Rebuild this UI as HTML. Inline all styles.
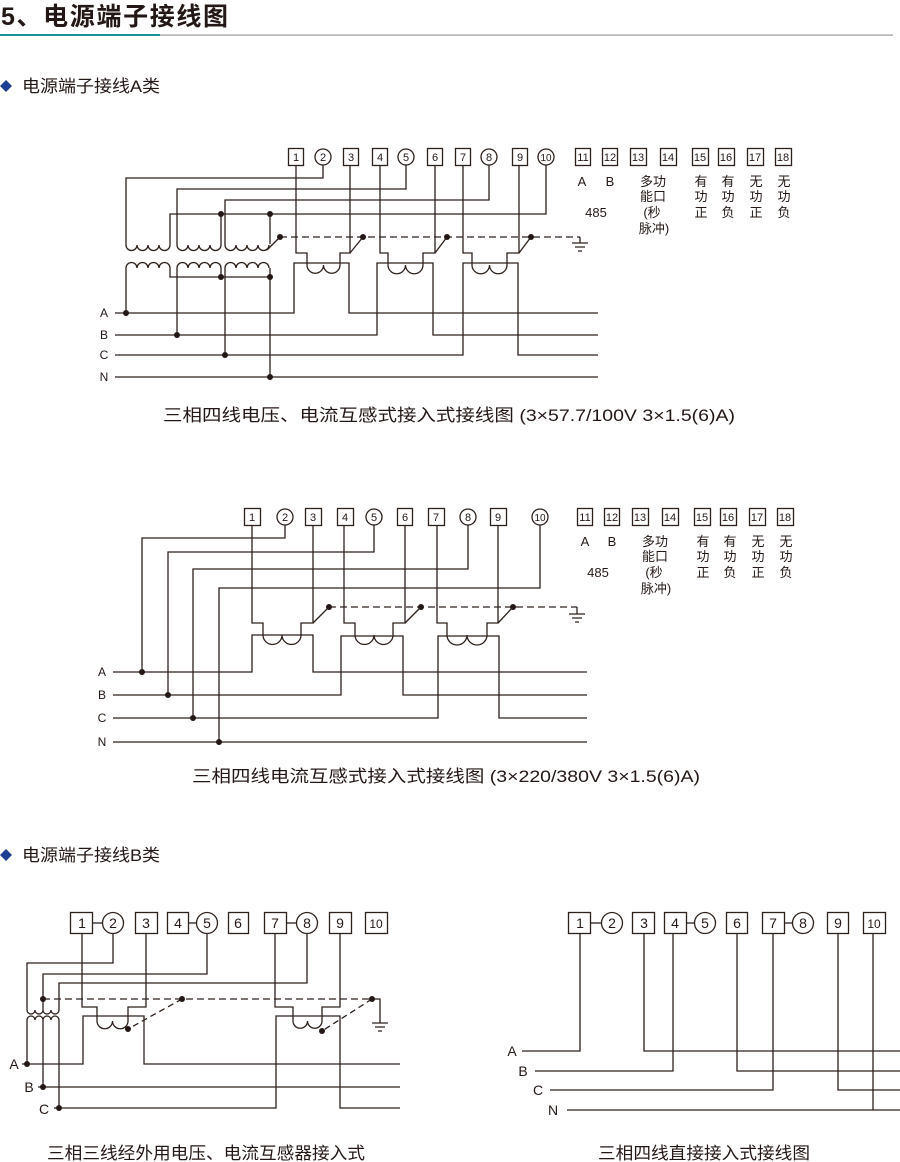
<!DOCTYPE html>
<html><head><meta charset="utf-8"><style>
body{margin:0;background:#fff;width:900px;height:1162px;overflow:hidden}
svg{display:block}
text{font-family:"Liberation Sans","Noto Sans CJK SC",sans-serif;fill:#231815}
.t{font-size:11px;text-anchor:middle}
.l{font-size:13px;text-anchor:middle}
.c{font-size:17px}
</style></head><body>
<svg width="900" height="1162" viewBox="0 0 900 1162" xmlns="http://www.w3.org/2000/svg">
<text x="1" y="25" style="font-size:25px;font-weight:bold" textLength="227" lengthAdjust="spacing">5、电源端子接线图</text>
<rect x="0" y="34" width="160" height="2" fill="#1a9199"/>
<rect x="160" y="34.5" width="733" height="1.2" fill="#999"/>
<path d="M6,80 L12,86 L6,92 L0,86Z" fill="#1c3f94"/>
<text x="22" y="92" style="font-size:17px" textLength="138" lengthAdjust="spacingAndGlyphs">电源端子接线A类</text>
<path d="M6,849 L12,855 L6,861 L0,855Z" fill="#1c3f94"/>
<text x="22" y="861" style="font-size:17px" textLength="138" lengthAdjust="spacingAndGlyphs">电源端子接线B类</text>

<g stroke="#2d211c" stroke-width="1.3" fill="none">
<g>
<rect x="288.5" y="148.5" width="15" height="17"/><circle cx="323" cy="157" r="8"/>
<rect x="343.5" y="148.5" width="15" height="17"/><rect x="372.5" y="148.5" width="15" height="17"/>
<circle cx="406" cy="157" r="8"/><rect x="427.5" y="148.5" width="15" height="17"/>
<rect x="455.5" y="148.5" width="15" height="17"/><circle cx="489" cy="157" r="8"/>
<rect x="512.5" y="148.5" width="15" height="17"/><circle cx="546" cy="157" r="8"/>
<rect x="575.5" y="148.5" width="15" height="17"/><rect x="602.5" y="148.5" width="15" height="17"/>
<rect x="630.5" y="148.5" width="16" height="17"/><rect x="660.5" y="148.5" width="16" height="17"/>
<rect x="692.5" y="148.5" width="16" height="17"/><rect x="718.5" y="148.5" width="16" height="17"/>
<rect x="747.5" y="148.5" width="16" height="17"/><rect x="775.5" y="148.5" width="16" height="17"/>
<path d="M323,165 V178 H126 V245"/>
<path d="M406,165 V189 H177 V245"/>
<path d="M489,165 V200 H225 V245"/>
<path d="M546,165 V214 H170 V245"/>
<path d="M221,214 V245"/><path d="M270,214 V244"/>
<path d="M126,245 a5.5,5.5 0 0 0 11,0 a5.5,5.5 0 0 0 11,0 a5.5,5.5 0 0 0 11,0 a5.5,5.5 0 0 0 11,0"/>
<path d="M177,245 a5.5,5.5 0 0 0 11,0 a5.5,5.5 0 0 0 11,0 a5.5,5.5 0 0 0 11,0 a5.5,5.5 0 0 0 11,0"/>
<path d="M225,245 a5.5,5.5 0 0 0 11,0 a5.5,5.5 0 0 0 11,0 a5.5,5.5 0 0 0 11,0 a5.5,5.5 0 0 0 11,0"/>
<path d="M267,250 L280,237"/>
<path d="M126,268 a5.5,5.5 0 0 1 11,0 a5.5,5.5 0 0 1 11,0 a5.5,5.5 0 0 1 11,0 a5.5,5.5 0 0 1 11,0"/>
<path d="M177,268 a5.5,5.5 0 0 1 11,0 a5.5,5.5 0 0 1 11,0 a5.5,5.5 0 0 1 11,0 a5.5,5.5 0 0 1 11,0"/>
<path d="M225,268 a5.5,5.5 0 0 1 11,0 a5.5,5.5 0 0 1 11,0 a5.5,5.5 0 0 1 11,0 a5.5,5.5 0 0 1 11,0"/>
<path d="M126,268 V313"/><path d="M170,268 V277 H270"/><path d="M221,268 V277"/>
<path d="M177,268 V335"/><path d="M225,268 V355"/><path d="M270,268 V377"/>
<path d="M296,165 V253 H307 V265 a8.25,8.25 0 0 0 16.5,0 a8.25,8.25 0 0 0 16.5,0 V253 H350 V165"/>
<path d="M350,253 L363,237"/>
<path d="M380,165 V253 H388 V265 a8.75,8.75 0 0 0 17.5,0 a8.75,8.75 0 0 0 17.5,0 V253 H435 V165"/>
<path d="M435,253 L447,237"/>
<path d="M463,165 V253 H472 V265 a8.75,8.75 0 0 0 17.5,0 a8.75,8.75 0 0 0 17.5,0 V253 H519 V165"/>
<path d="M519,253 L531,237"/>
<path d="M280,237 H580" stroke-dasharray="7,4"/>
<path d="M580,237 V243 M572,243 H588 M575,247 H585 M578,251 H582"/>
<path d="M115,313 H294 V263 H349 V313 H598"/>
<path d="M115,335 H377 V263 H433 V335 H598"/>
<path d="M115,355 H463 V263 H518 V355 H598"/>
<path d="M115,377 H598"/>
</g>

<g>
<rect x="244.5" y="508.5" width="16" height="17"/><circle cx="285" cy="517" r="8"/>
<rect x="305.5" y="508.5" width="16" height="17"/><rect x="337.5" y="508.5" width="16" height="17"/>
<circle cx="374" cy="517" r="8"/><rect x="397.5" y="508.5" width="15" height="17"/>
<rect x="428.5" y="508.5" width="16" height="17"/><circle cx="468" cy="517" r="8"/>
<rect x="490.5" y="508.5" width="16" height="17"/><circle cx="540" cy="517" r="8"/>
<rect x="577.5" y="508.5" width="15" height="17"/><rect x="604.5" y="508.5" width="15" height="17"/>
<rect x="632.5" y="508.5" width="16" height="17"/><rect x="662.5" y="508.5" width="16" height="17"/>
<rect x="694.5" y="508.5" width="16" height="17"/><rect x="720.5" y="508.5" width="16" height="17"/>
<rect x="749.5" y="508.5" width="16" height="17"/><rect x="777.5" y="508.5" width="16" height="17"/>
<path d="M285,525 V538 H142 V672"/>
<path d="M374,525 V552 H168 V695"/>
<path d="M468,525 V569 H193 V718"/>
<path d="M540,525 V588 H219 V742"/>
<path d="M252,525 V623 H263 V635 a9.5,9.5 0 0 0 19,0 a9.5,9.5 0 0 0 19,0 V623 H313 V525"/>
<path d="M313,623 L329,607"/>
<path d="M344,525 V623 H355 V635 a9.5,9.5 0 0 0 19,0 a9.5,9.5 0 0 0 19,0 V623 H405 V525"/>
<path d="M405,623 L421,607"/>
<path d="M437,525 V623 H447 V635 a10,10 0 0 0 20,0 a10,10 0 0 0 20,0 V623 H498 V525"/>
<path d="M498,623 L513,607"/>
<path d="M329,607 H577" stroke-dasharray="7,4"/>
<path d="M577,607 V614 M569,614 H585 M572,618 H582 M575,622 H579"/>
<path d="M113,672 H252 V635 H313 V672 H587"/>
<path d="M113,695 H341 V636 H403 V695 H587"/>
<path d="M113,718 H438 V636 H499 V718 H587"/>
<path d="M113,742 H587"/>
</g>

<g>
<rect x="70.5" y="912.5" width="22" height="21"/><path d="M92,923 H102"/><circle cx="113" cy="923" r="10.5"/>
<rect x="135.5" y="912.5" width="22" height="21"/>
<rect x="167.5" y="912.5" width="21" height="21"/><path d="M188,923 H196"/><circle cx="207" cy="923" r="10.5"/>
<rect x="228.5" y="912.5" width="20" height="21"/>
<rect x="264.5" y="912.5" width="22" height="21"/><path d="M286,923 H296"/><circle cx="307" cy="923" r="10.5"/>
<rect x="329.5" y="912.5" width="22" height="21"/><rect x="365.5" y="912.5" width="22" height="21"/>
<path d="M113,934 V963 H27 V1010"/>
<path d="M207,934 V974 H43 V1010"/>
<path d="M307,934 V983 H59 V1010"/>
<path d="M27,1010 a4,4 0 0 0 8,0 a4,4 0 0 0 8,0 a4,4 0 0 0 8,0 a4,4 0 0 0 8,0"/>
<path d="M27,1020 a4,4 0 0 1 8,0 a4,4 0 0 1 8,0 a4,4 0 0 1 8,0 a4,4 0 0 1 8,0"/>
<path d="M27,1020 V1064"/><path d="M43,1020 V1087"/><path d="M59,1020 V1108"/>
<path d="M43,999 H372" stroke-dasharray="7,4"/>
<path d="M372,999 H380 V1023 M372,1023 H388 M375,1027 H385 M378,1031 H382"/>
<path d="M182,999 L128,1029" stroke-dasharray="6,4"/>
<path d="M372,999 L322,1031" stroke-dasharray="6,4"/>
<path d="M82,934 V1007 H97 V1021 a7.75,7.75 0 0 0 15.5,0 a7.75,7.75 0 0 0 15.5,0 V1007 H146 V934"/>
<path d="M275,934 V1007 H293 V1021 a7.25,7.25 0 0 0 14.5,0 a7.25,7.25 0 0 0 14.5,0 V1007 H340 V934"/>
<path d="M22,1064 H83 V1016 H144 V1064 H400"/>
<path d="M38,1087 H400"/>
<path d="M54,1108 H276 V1016 H340 V1108 H400"/>
</g>

<g>
<rect x="568.5" y="912.5" width="22" height="21"/><path d="M590,923 H601"/><circle cx="612" cy="923" r="10.5"/>
<rect x="632.5" y="912.5" width="22" height="21"/>
<rect x="664.5" y="912.5" width="22" height="21"/><path d="M686,923 H694"/><circle cx="705" cy="923" r="10.5"/>
<rect x="726.5" y="912.5" width="21" height="21"/>
<rect x="762.5" y="912.5" width="22" height="21"/><path d="M784,923 H792"/><circle cx="803" cy="923" r="10.5"/>
<rect x="827.5" y="912.5" width="21" height="21"/><rect x="863.5" y="912.5" width="22" height="21"/>
<path d="M522,1051 H580 V934"/><path d="M644,934 V1051 H900"/>
<path d="M535,1071 H673 V934"/><path d="M737,934 V1071 H900"/>
<path d="M550,1090 H773 V934"/><path d="M838,934 V1090 H900"/>
<path d="M567,1110 H900"/><path d="M873,934 V1110"/>
</g>
</g>

<g fill="#231815">
<circle cx="363" cy="237" r="3"/><circle cx="447" cy="237" r="3"/><circle cx="531" cy="237" r="3"/><circle cx="280" cy="237" r="3"/>
<circle cx="221" cy="214" r="3"/><circle cx="270" cy="214" r="3"/><circle cx="221" cy="277" r="3"/><circle cx="270" cy="277" r="3"/>
<circle cx="126" cy="313" r="3"/><circle cx="177" cy="335" r="3"/><circle cx="225" cy="355" r="3"/><circle cx="270" cy="377" r="3"/>
<circle cx="329" cy="607" r="3"/><circle cx="421" cy="607" r="3"/><circle cx="513" cy="607" r="3"/>
<circle cx="142" cy="672" r="3"/><circle cx="168" cy="695" r="3"/><circle cx="193" cy="718" r="3"/><circle cx="219" cy="742" r="3"/>
<circle cx="43" cy="999" r="3"/><circle cx="182" cy="999" r="3"/><circle cx="372" cy="999" r="3"/>
<circle cx="128" cy="1029" r="3"/><circle cx="322" cy="1031" r="3"/>
<circle cx="27" cy="1064" r="3"/><circle cx="43" cy="1087" r="3"/><circle cx="59" cy="1108" r="3"/>
</g>

<g class="t">
<text x="296" y="161">1</text><text x="323" y="161">2</text><text x="351" y="161">3</text><text x="380" y="161">4</text><text x="406" y="161">5</text><text x="435" y="161">6</text><text x="463" y="161">7</text><text x="489" y="161">8</text><text x="520" y="161">9</text><text x="546" y="161" style="font-size:10px">10</text>
<text x="583" y="161">11</text><text x="610" y="161">12</text><text x="638" y="161">13</text><text x="668" y="161">14</text><text x="700" y="161">15</text><text x="726" y="161">16</text><text x="755" y="161">17</text><text x="783" y="161">18</text>
<text x="252" y="521">1</text><text x="285" y="521">2</text><text x="313" y="521">3</text><text x="345" y="521">4</text><text x="374" y="521">5</text><text x="405" y="521">6</text><text x="436" y="521">7</text><text x="468" y="521">8</text><text x="498" y="521">9</text><text x="540" y="521" style="font-size:10px">10</text>
<text x="585" y="521">11</text><text x="612" y="521">12</text><text x="640" y="521">13</text><text x="670" y="521">14</text><text x="702" y="521">15</text><text x="728" y="521">16</text><text x="757" y="521">17</text><text x="785" y="521">18</text>
</g>
<g class="l">
<text x="582" y="186">A</text><text x="610" y="186">B</text><text x="653" y="186">多功</text><text x="701" y="186">有</text><text x="728" y="186">有</text><text x="756" y="186">无</text><text x="784" y="186">无</text>
<text x="653" y="201">能口</text><text x="701" y="201">功</text><text x="728" y="201">功</text><text x="756" y="201">功</text><text x="784" y="201">功</text>
<text x="596" y="217">485</text><text x="652" y="217">(秒</text><text x="701" y="217">正</text><text x="728" y="217">负</text><text x="756" y="217">正</text><text x="784" y="217">负</text>
<text x="654" y="233">脉冲)</text>
<text x="585" y="546">A</text><text x="612" y="546">B</text><text x="655" y="546">多功</text><text x="703" y="546">有</text><text x="730" y="546">有</text><text x="758" y="546">无</text><text x="786" y="546">无</text>
<text x="655" y="561">能口</text><text x="703" y="561">功</text><text x="730" y="561">功</text><text x="758" y="561">功</text><text x="786" y="561">功</text>
<text x="598" y="577">485</text><text x="654" y="577">(秒</text><text x="703" y="577">正</text><text x="730" y="577">负</text><text x="758" y="577">正</text><text x="786" y="577">负</text>
<text x="656" y="593">脉冲)</text>
</g>
<g class="t" style="font-size:12px">
<text x="104" y="317">A</text><text x="104" y="339">B</text><text x="104" y="359">C</text><text x="104" y="381">N</text>
<text x="102" y="676">A</text><text x="102" y="699">B</text><text x="102" y="722">C</text><text x="102" y="746">N</text>
</g>
<g class="t" style="font-size:14px">
<text x="82" y="928">1</text><text x="113" y="928">2</text><text x="146" y="928">3</text><text x="178" y="928">4</text><text x="207" y="928">5</text><text x="238" y="928">6</text><text x="275" y="928">7</text><text x="307" y="928">8</text><text x="340" y="928">9</text><text x="376" y="928" style="font-size:12px">10</text>
<text x="580" y="928">1</text><text x="612" y="928">2</text><text x="644" y="928">3</text><text x="675" y="928">4</text><text x="705" y="928">5</text><text x="737" y="928">6</text><text x="773" y="928">7</text><text x="803" y="928">8</text><text x="838" y="928">9</text><text x="874" y="928" style="font-size:12px">10</text>
<text x="14" y="1069">A</text><text x="29" y="1092">B</text><text x="44" y="1114">C</text>
<text x="512" y="1056">A</text><text x="523" y="1076">B</text><text x="538" y="1095">C</text><text x="553" y="1115">N</text>
</g>
<text class="c" x="163" y="421" textLength="572" lengthAdjust="spacingAndGlyphs">三相四线电压、电流互感式接入式接线图 (3×57.7/100V 3×1.5(6)A)</text>
<text class="c" x="192" y="782" textLength="508" lengthAdjust="spacingAndGlyphs">三相四线电流互感式接入式接线图 (3×220/380V 3×1.5(6)A)</text>
<text class="c" x="47" y="1159" textLength="318" lengthAdjust="spacingAndGlyphs">三相三线经外用电压、电流互感器接入式</text>
<text class="c" x="598" y="1159" textLength="212" lengthAdjust="spacingAndGlyphs">三相四线直接接入式接线图</text>
</svg>
</body></html>
